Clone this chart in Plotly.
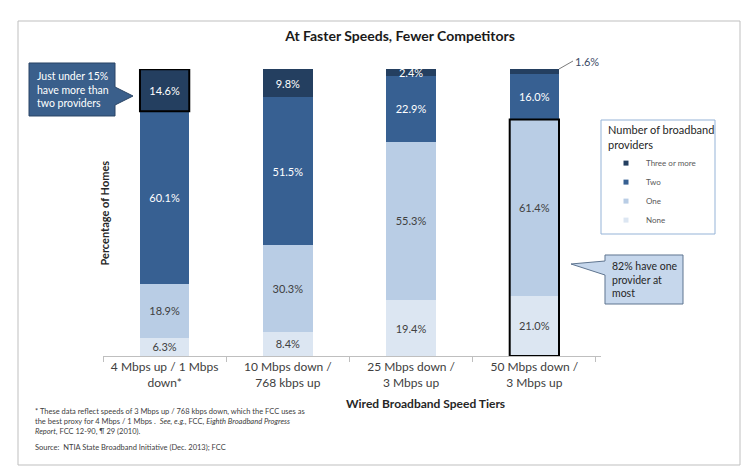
import plotly.graph_objects as go

# ---- data ----
categories = ["4 Mbps up / 1 Mbps<br>down*", "10 Mbps down /<br>768 kbps up",
              "25 Mbps down /<br>3 Mbps up", "50 Mbps down /<br>3 Mbps up"]
none_vals = [6.3, 8.4, 19.4, 21.0]
one_vals = [18.9, 30.3, 55.3, 61.4]
two_vals = [60.1, 51.5, 22.9, 16.0]
three_vals = [14.6, 9.8, 2.4, 1.6]
series_names = ["None", "One", "Two", "Three or more"]

colors = {"None": "#dce6f2", "One": "#b9cde5", "Two": "#376092", "Three or more": "#243f60"}
text_colors = {"None": "#404040", "One": "#404040", "Two": "white", "Three or more": "white"}

FONT = "Lato"
W, H = 749, 472
L, R, T, B = 95, 156, 61, 124
PW, PH = W - L - R, H - T - B


def px(x):
    return (x - L) / PW


def py(y):
    return (H - B - y) / PH


fig = go.Figure()
series = [none_vals, one_vals, two_vals, three_vals]
for name, vals in zip(series_names, series):
    txt = [f"{v:.1f}%" for v in vals]
    if name == "Three or more":
        txt[3] = ""  # labelled outside
    fig.add_trace(go.Bar(
        x=categories, y=vals, name=name, text=txt, textposition="inside",
        insidetextanchor="middle", textangle=0, cliponaxis=False,
        textfont=dict(family=FONT, size=11, color=text_colors[name]),
        marker=dict(color=colors[name], line=dict(width=0)),
        showlegend=False, hoverinfo="skip"))

# legend entries (small square markers)
for name in reversed(series_names):
    fig.add_trace(go.Scatter(x=[None], y=[None], mode="markers", name=name,
                             marker=dict(symbol="square", size=5, color=colors[name]),
                             showlegend=True))

hw = 0.2  # half bar width (bargap 0.6)
shapes = []
# outer frame
shapes.append(dict(type="rect", xref="paper", yref="paper", x0=px(10), x1=px(732),
                   y0=py(457), y1=py(13), line=dict(color="#bfbfbf", width=1), layer="below"))
# highlight: bar 1 "three or more"
y0 = none_vals[0] + one_vals[0] + two_vals[0]
shapes.append(dict(type="rect", xref="x", yref="y", x0=0 - hw, x1=0 + hw,
                   y0=y0, y1=y0 + three_vals[0], line=dict(color="black", width=2)))
# highlight: bar 4 one provider at most
shapes.append(dict(type="rect", xref="x", yref="y", x0=3 - hw, x1=3 + hw,
                   y0=0, y1=none_vals[3] + one_vals[3], line=dict(color="black", width=2)))
# legend box
shapes.append(dict(type="rect", xref="paper", yref="paper", x0=px(593), x1=px(707),
                   y0=py(226), y1=py(112), line=dict(color="#95b3d7", width=1)))


def path(points):
    s = "M " + " L ".join(f"{px(a):.5f},{py(b):.5f}" for a, b in points) + " Z"
    return s


# callout 1
shapes.append(dict(type="path", xref="paper", yref="paper",
                   path=path([(21, 55), (107, 55), (107, 79), (125, 88), (107, 97),
                              (107, 108), (21, 108)]),
                   fillcolor="#3a5f8b", line=dict(color="#2a4566", width=1)))
# callout 2
shapes.append(dict(type="path", xref="paper", yref="paper",
                   path=path([(597, 247), (675, 247), (675, 296), (597, 296), (597, 267),
                              (563, 256), (597, 253)]),
                   fillcolor="#c6d7ec", line=dict(color="#5f7590", width=1)))

annotations = [
    dict(xref="paper", yref="paper", x=px(87), y=py(205), text="<b>Percentage of Homes</b>",
         textangle=-90, showarrow=False, font=dict(family=FONT, size=11, color="#262626")),
    dict(xref="paper", yref="paper", x=px(417), y=py(405), text="<b>Wired Broadband Speed Tiers</b>",
         showarrow=False, font=dict(family=FONT, size=12, color="#262626")),
    dict(xref="paper", yref="paper", x=px(25), y=py(397), xanchor="left", yanchor="top", align="left",
         text="* These data reflect speeds of 3 Mbps up / 768 kbps down, which the FCC uses as<br>"
              "the best proxy for 4 Mbps / 1 Mbps .  <i>See, e.g.</i>, FCC, <i>Eighth Broadband Progress</i><br>"
              "<i>Report</i>, FCC 12-90, ¶ 29 (2010).",
         showarrow=False, font=dict(family=FONT, size=7.5, color="#404040")),
    dict(xref="paper", yref="paper", x=px(25), y=py(439), xanchor="left", yanchor="middle", align="left",
         text="Source:  NTIA State Broadband Initiative (Dec. 2013); FCC",
         showarrow=False, font=dict(family=FONT, size=7.5, color="#404040")),
    dict(xref="paper", yref="paper", x=px(27), y=py(81), xanchor="left", yanchor="middle", align="left",
         text="Just under 15%<br>have more than<br>two providers", showarrow=False,
         font=dict(family=FONT, size=10.5, color="white")),
    dict(xref="paper", yref="paper", x=px(602), y=py(271), xanchor="left", yanchor="middle", align="left",
         text="82% have one<br>provider at<br>most", showarrow=False,
         font=dict(family=FONT, size=10.5, color="#262626")),
    dict(xref="x", yref="y", x=3 + hw, y=100, ax=14, ay=-8, xanchor="left", yanchor="middle",
         text=f"{three_vals[3]:.1f}%", showarrow=True, arrowhead=0, arrowwidth=0.8,
         arrowcolor="#595959", standoff=0, font=dict(family=FONT, size=11, color="#3b4a66")),
]

fig.update_layout(
    width=W, height=H, margin=dict(l=L, r=R, t=T, b=B, autoexpand=False),
    paper_bgcolor="white", plot_bgcolor="white",
    barmode="stack", bargap=0.6,
    uniformtext=dict(minsize=11, mode="show"),
    title=dict(text="<b>At Faster Speeds, Fewer Competitors</b>", x=392 / W, y=1 - 28 / H,
               xref="container", yref="container", xanchor="center", yanchor="middle",
               font=dict(family=FONT, size=14, color="#1a1a1a")),
    xaxis=dict(showline=True, linecolor="#bfbfbf", linewidth=1, ticks="outside",
               tickson="boundaries", ticklen=5, tickcolor="#bfbfbf", showgrid=False,
               tickfont=dict(family=FONT, size=12, color="#404040"), fixedrange=True),
    yaxis=dict(range=[0, 100], showticklabels=False, showgrid=False, zeroline=False,
               showline=False, fixedrange=True),
    legend=dict(x=px(598), y=py(112), xanchor="left", yanchor="top", bgcolor="rgba(0,0,0,0)",
                borderwidth=0, traceorder="normal",
                title=dict(text="Number of broadband<br>providers",
                           font=dict(family=FONT, size=11, color="#262626")),
                font=dict(family=FONT, size=8, color="#595959")),
    shapes=shapes, annotations=annotations, font=dict(family=FONT),
)

fig.write_html("out.html")
